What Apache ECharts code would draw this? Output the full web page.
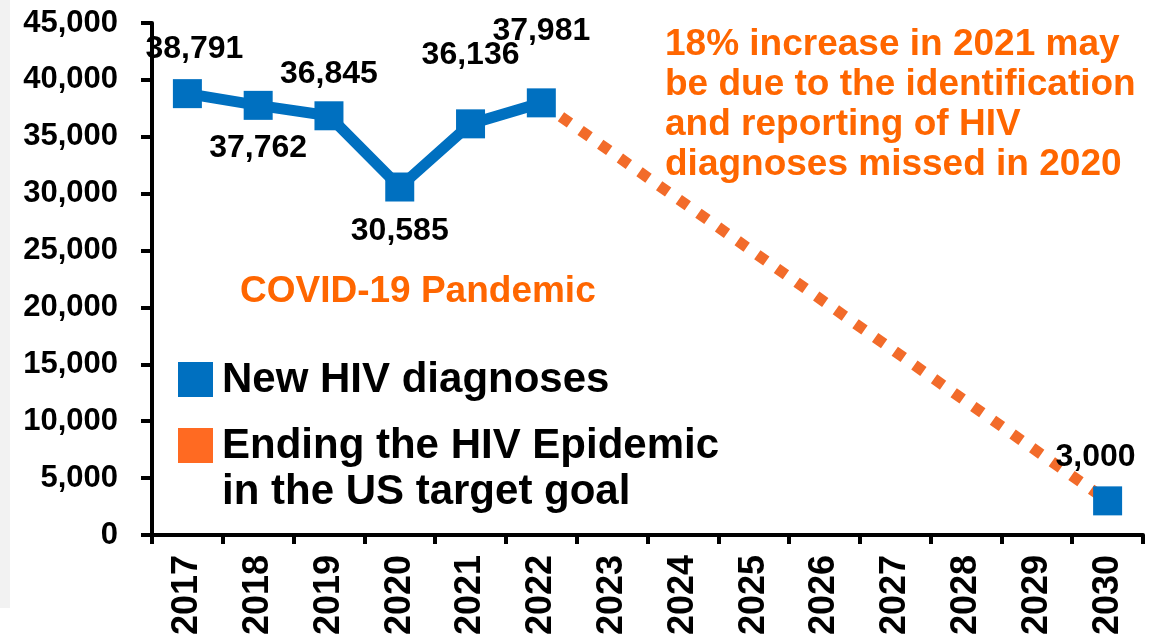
<!DOCTYPE html>
<html>
<head>
<meta charset="utf-8">
<script src="https://cdn.jsdelivr.net/npm/echarts@6/dist/echarts.min.js"></script>
<style>
  html, body { margin: 0; padding: 0; background: #fff; }
  #chart { width: 1158px; height: 640px; }
</style>
</head>
<body>
<div id="chart"></div>
<script>
// years on the x axis
var years = ['2017', '2018', '2019', '2020', '2021', '2022', '2023', '2024', '2025', '2026', '2027', '2028', '2029', '2030'];
// new HIV diagnoses (2030 = target goal point)
var diagnoses = [38791, 37762, 36845, 30585, 36136, 37981, null, null, null, null, null, null, null, 3000];
// EHE target path from 2022 to 2030
var target = [null, null, null, null, null, 37981, null, null, null, null, null, null, null, 3000];
// label offsets from each marker centre (px)
var labelOffsets = [[7, -44], [0, 43], [0, -42], [0, 44], [0, -69], [0, -72], null, null, null, null, null, null, null, [-12, -44]];

var legendNames = ['New HIV diagnoses', 'Ending the HIV Epidemic', 'in the US target goal'];
var noteText = '18% increase in 2021 may\nbe due to the identification\nand reporting of HIV\ndiagnoses missed in 2020';
var covidText = 'COVID-19 Pandemic';

var BLUE = '#0070C0';
var ORANGE = '#F26B2A';
var TEXT_ORANGE = '#FF6600';
var FONT = 'Liberation Sans, Arial, sans-serif';

var chart = echarts.init(document.getElementById('chart'));

var blueData = diagnoses.map(function (v, i) {
  if (v === null) return null;
  return {
    value: v,
    label: { offset: labelOffsets[i] }
  };
});

var option = {
  animation: false,
  grid: { left: 152, right: 15, top: 23, bottom: 105 },
  xAxis: {
    type: 'category',
    data: years,
    boundaryGap: true,
    axisLine: { lineStyle: { color: '#000', width: 4 } },
    axisTick: { show: true, length: 9, lineStyle: { color: '#000', width: 4 } },
    axisLabel: {
      rotate: 90,
      margin: 20,
      color: '#000',
      fontFamily: FONT,
      fontWeight: 'bold',
      fontSize: 36
    },
    splitLine: { show: false }
  },
  yAxis: {
    type: 'value',
    min: 0,
    max: 45000,
    interval: 5000,
    axisLine: { show: true, lineStyle: { color: '#000', width: 4 } },
    axisTick: { show: true, length: 11, lineStyle: { color: '#000', width: 4 } },
    axisLabel: {
      margin: 34,
      color: '#000',
      fontFamily: FONT,
      fontWeight: 'bold',
      fontSize: 31,
      formatter: function (v) { return v.toLocaleString('en-US'); }
    },
    splitLine: { show: false }
  },
  series: [
    {
      name: legendNames[1],
      type: 'line',
      data: target,
      connectNulls: true,
      symbol: 'none',
      z: 2,
      lineStyle: { color: ORANGE, width: 11, type: [11, 13], cap: 'butt' }
    },
    {
      name: legendNames[0],
      type: 'line',
      data: blueData,
      connectNulls: false,
      symbol: 'rect',
      symbolSize: 29,
      z: 3,
      itemStyle: { color: BLUE },
      lineStyle: { color: BLUE, width: 11 },
      label: {
        show: true,
        position: 'inside',
        color: '#000',
        fontFamily: FONT,
        fontWeight: 'bold',
        fontSize: 32,
        formatter: function (p) { return p.value.toLocaleString('en-US'); }
      }
    }
  ],
  graphic: [
    { type: 'rect', left: 0, top: 0, z: -10, shape: { width: 10, height: 608 }, style: { fill: '#f2f2f2' } },
    { type: 'rect', left: 178, top: 362, shape: { width: 35, height: 35 }, style: { fill: BLUE } },
    { type: 'rect', left: 178, top: 428, shape: { width: 35, height: 35 }, style: { fill: '#FF6A22' } },
    { type: 'text', left: 222, top: 359, style: { text: legendNames[0], fill: '#000', font: 'bold 42px ' + FONT } },
    { type: 'text', left: 222, top: 423, style: { text: legendNames[1] + '\n' + legendNames[2], fill: '#000', font: 'bold 42px ' + FONT, lineHeight: 46 } },
    { type: 'text', left: 665, top: 25, style: { text: noteText, fill: TEXT_ORANGE, font: 'bold 37px ' + FONT, lineHeight: 40 } },
    { type: 'text', left: 240, top: 273, style: { text: covidText, fill: TEXT_ORANGE, font: 'bold 37px ' + FONT } }
  ]
};

chart.setOption(option);
</script>
</body>
</html>
